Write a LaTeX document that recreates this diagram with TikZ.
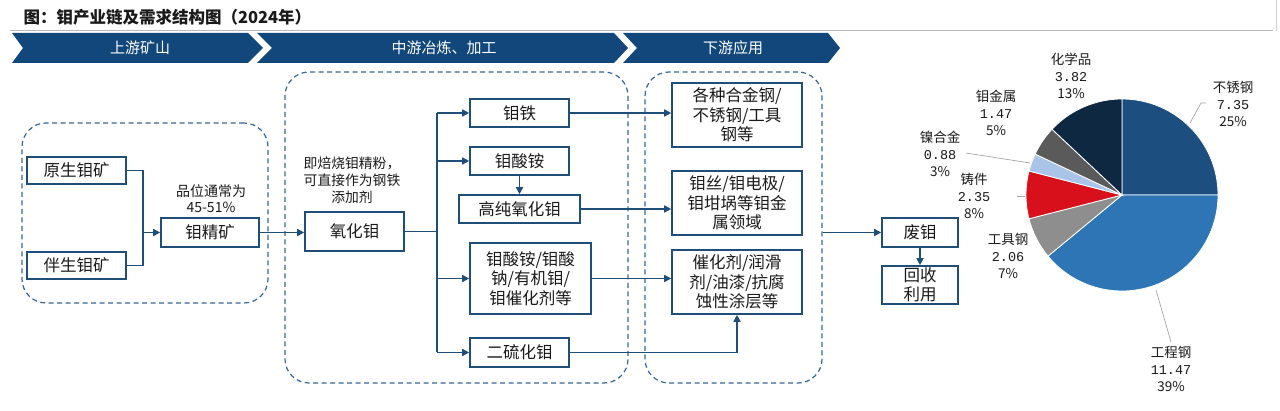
\documentclass[tikz,border=0pt]{standalone}
\usepackage{fontspec}
\setmainfont{Noto Sans CJK SC}
\newfontfamily\monof{Liberation Mono}
\usetikzlibrary{arrows.meta}
\definecolor{mblue}{HTML}{1F4E79}
\definecolor{bann}{HTML}{12477B}
\definecolor{dashc}{HTML}{3A6795}
\definecolor{txt}{HTML}{1A1A1A}
\definecolor{cA}{HTML}{1C4E80}
\definecolor{cB}{HTML}{2E75B6}
\definecolor{cC}{HTML}{8E8E8E}
\definecolor{cD}{HTML}{D8101C}
\definecolor{cE}{HTML}{A9C4E8}
\definecolor{cF}{HTML}{5A5A5A}
\definecolor{cG}{HTML}{0F2842}
\tikzset{
  box/.style={draw=mblue, line width=1.6pt, fill=white, inner sep=0pt, align=center,
    text=txt, font=\fontsize{16.5}{19.5}\selectfont},
  dashbox/.style={draw=dashc, line width=1.2pt, dash pattern=on 5pt off 3.5pt,
    rounded corners=24pt, inner sep=0pt},
  conn/.style={draw=mblue, line width=1.6pt},
  arr/.style={conn, -{Triangle[length=7pt,width=7pt]}},
  banner/.style={fill=bann},
  bantext/.style={text=white, font=\fontsize{15}{18}\selectfont},
  note/.style={text=txt, align=center, font=\fontsize{13.8}{17}\selectfont},
  plabel/.style={text=txt, align=center, font=\fontsize{13.5}{17}\selectfont},
  leader/.style={draw=gray!70, line width=0.7pt},
}
\newcommand{\nm}[1]{{\monof #1}}
\begin{document}
\begin{tikzpicture}[x=1pt,y=-1pt]
\path[use as bounding box, fill=white] (0,0) rectangle (1280,411);

% title and rule
\node[anchor=west, text=txt, font=\fontsize{16.5}{19}\selectfont\bfseries] (title) at (20,17) {图：钼产业链及需求结构图（2024年）};
\draw[gray!55, line width=1pt] (10,31) -- (1273,31);
\draw[gray!35, line width=1pt] (1276,0) -- (1276,31);

% banner chevrons
\fill[banner] (12,33) -- (248,33) -- (263,48) -- (248,63) -- (12,63) -- (23,48) -- cycle;
\fill[banner] (257,33) -- (614,33) -- (628,48) -- (614,63) -- (257,63) -- (272,48) -- cycle;
\fill[banner] (623,33) -- (828,33) -- (840,48) -- (828,63) -- (623,63) -- (637,48) -- cycle;
\node[bantext] (b1) at (140,48) {上游矿山};
\node[bantext] (b2) at (444,48) {中游冶炼、加工};
\node[bantext] (b3) at (733,48) {下游应用};

% dashed groups
\node[dashbox, minimum width=246pt, minimum height=180pt] (dL) at (145,213) {};
\node[dashbox, minimum width=343pt, minimum height=311pt] (dM) at (456.5,227.5) {};
\node[dashbox, minimum width=177pt, minimum height=311pt] (dR) at (733.5,227.5) {};

% upstream
\node[box, minimum width=99pt, minimum height=27pt] (n1) at (76.5,170.5) {原生钼矿};
\node[box, minimum width=99pt, minimum height=27pt] (n2) at (76.5,265.5) {伴生钼矿};
\node[box, minimum width=98pt, minimum height=29pt] (jk) at (210,232.5) {钼精矿};
\node[note, font=\fontsize{14}{16}\selectfont] (jkn) at (211,199) {品位通常为\\45-51\%};
\coordinate (j1) at (143,232.5);
\draw[conn] (n1.east) -| (j1);
\draw[conn] (n2.east) -| (j1);
\draw[arr] (j1) -- (jk.west);

% midstream
\node[box, minimum width=99pt, minimum height=39pt] (ox) at (354.5,231.5) {氧化钼};
\node[note] (oxn) at (352,180) {即焙烧钼精粉，\\可直接作为钢铁\\添加剂};
\draw[arr] (jk.east) -- (jk.east -| ox.west);

\node[box, minimum width=99pt, minimum height=28pt] (mt) at (519.5,113) {钼铁};
\node[box, minimum width=99pt, minimum height=28pt] (ma) at (519.5,161) {钼酸铵};
\node[box, minimum width=121pt, minimum height=28pt] (gc) at (519.5,209) {高纯氧化钼};
\node[box, minimum width=121pt, minimum height=71pt] (mx) at (530.5,278.5) {钼酸铵/钼酸\\钠/有机钼/\\钼催化剂等};
\node[box, minimum width=99pt, minimum height=29pt] (ds) at (519.5,352.5) {二硫化钼};

\coordinate (tx) at (437,231.5);
\draw[conn] (ox.east) -- (tx);
\draw[conn] (tx |- mt.west) -- (tx |- ds.west);
\draw[arr] (tx |- mt.west) -- (mt.west);
\draw[arr] (tx |- ma.west) -- (ma.west);
\draw[arr] (tx |- mx.west) -- (mx.west);
\draw[arr] (tx |- ds.west) -- (ds.west);
\draw[arr] (ma.south) -- (gc.north);

% downstream
\node[box, minimum width=130pt, minimum height=64pt] (r1) at (737,115) {各种合金钢/\\不锈钢/工具\\钢等};
\node[box, minimum width=130pt, minimum height=64pt] (r2) at (737,203) {钼丝/钼电极/\\钼坩埚等钼金\\属领域};
\node[box, minimum width=130pt, minimum height=64pt] (r3) at (737,282) {催化剂/润滑\\剂/油漆/抗腐\\蚀性涂层等};
\draw[arr] (mt.east) -- (mt.east -| r1.west);
\draw[arr] (gc.east) -- (gc.east -| r2.west);
\draw[arr] (mx.east) -- (mx.east -| r3.west);
\draw[arr] (ds.east) -| (r3.south);

% recycling
\node[box, minimum width=76pt, minimum height=29pt] (fm) at (920,232.5) {废钼};
\node[box, minimum width=76pt, minimum height=38pt, font=\fontsize{16.5}{19}\selectfont] (hs) at (920,285) {回收\\利用};
\draw[arr] (dR.east |- fm.west) -- (fm.west);
\draw[arr] (fm.south) -- (hs.north);

% pie chart
\coordinate (pc) at (1122,195);
\filldraw[fill=cA, draw=white, line width=0.8pt] (pc) -- ++(0:96pt) arc[start angle=0, end angle=90, radius=96pt] -- cycle;
\filldraw[fill=cB, draw=white, line width=0.8pt] (pc) -- ++(-140.45:96pt) arc[start angle=-140.45, end angle=0, radius=96pt] -- cycle;
\filldraw[fill=cC, draw=white, line width=0.8pt] (pc) -- ++(-165.67:96pt) arc[start angle=-165.67, end angle=-140.45, radius=96pt] -- cycle;
\filldraw[fill=cD, draw=white, line width=0.8pt] (pc) -- ++(-194.45:96pt) arc[start angle=-194.45, end angle=-165.67, radius=96pt] -- cycle;
\filldraw[fill=cE, draw=white, line width=0.8pt] (pc) -- ++(-205.23:96pt) arc[start angle=-205.23, end angle=-194.45, radius=96pt] -- cycle;
\filldraw[fill=cF, draw=white, line width=0.8pt] (pc) -- ++(-223.23:96pt) arc[start angle=-223.23, end angle=-205.23, radius=96pt] -- cycle;
\filldraw[fill=cG, draw=white, line width=0.8pt] (pc) -- ++(-270:96pt) arc[start angle=-270, end angle=-223.23, radius=96pt] -- cycle;

% pie labels
\node[plabel] (lG) at (1071,76) {化学品\\\nm{3.82}\\13\%};
\node[plabel] (lA) at (1233,104) {不锈钢\\\nm{7.35}\\25\%};
\node[plabel] (lF) at (996,113) {钼金属\\\nm{1.47}\\5\%};
\node[plabel] (lE) at (940,154) {镍合金\\\nm{0.88}\\3\%};
\node[plabel] (lD) at (974,196) {铸件\\\nm{2.35}\\8\%};
\node[plabel] (lC) at (1008,256) {工具钢\\\nm{2.06}\\7\%};
\node[plabel] (lB) at (1171,369) {工程钢\\\nm{11.47}\\39\%};

% leaders
\coordinate (aA) at (1190,123); \coordinate (kA) at (1201,103); \coordinate (eA) at (1206,103);
\draw[leader] (aA) -- (kA) -- (eA);
\coordinate (aE) at (1030,163); \coordinate (eE) at (966,153);
\draw[leader] (eE) -- (aE);
\coordinate (aD) at (1025,196); \coordinate (eD) at (1017,196);
\draw[leader] (eD) -- (aD);
\coordinate (aB) at (1156,290); \coordinate (eB) at (1171,342);
\draw[leader] (aB) -- (eB);
\end{tikzpicture}
\end{document}
